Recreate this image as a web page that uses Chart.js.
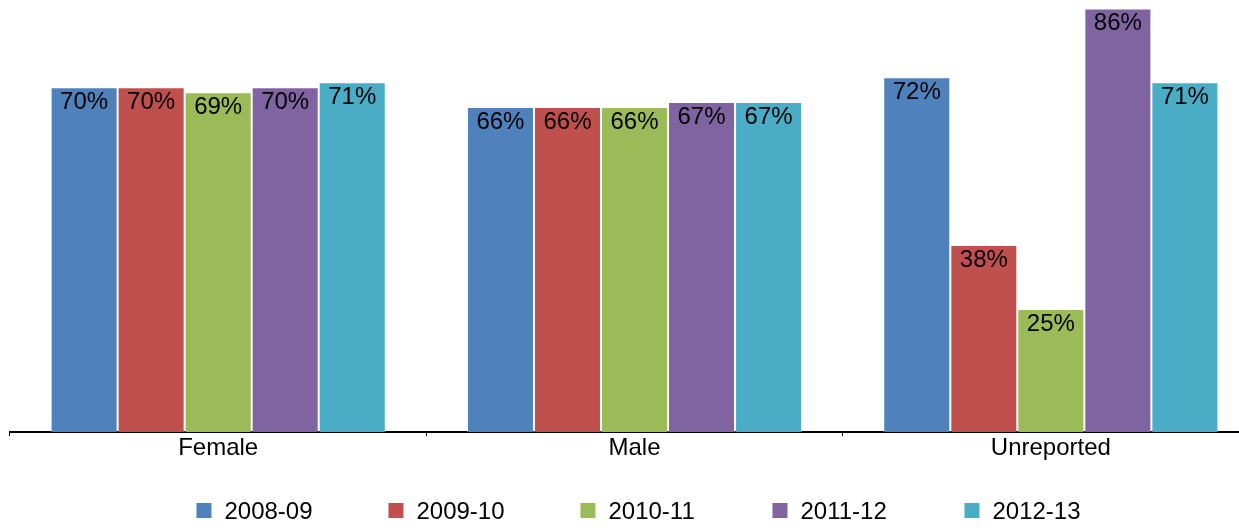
<!DOCTYPE html>
<html>
<head>
<meta charset="utf-8">
<script src="https://cdn.jsdelivr.net/npm/chart.js@4/dist/chart.umd.min.js"></script>
<style>
  html, body { margin: 0; padding: 0; background: #fff; overflow: hidden; }
  #wrap { width: 1277px; height: 528px; position: relative; }
</style>
</head>
<body>
<div id="wrap"><canvas id="chart"></canvas></div>
<script>
const categories = ['Female', 'Male', 'Unreported']
const seriesNames = ['2008-09', '2009-10', '2010-11', '2011-12', '2012-13']
const s2008 = [70, 66, 72]
const s2009 = [70, 66, 38]
const s2010 = [69, 66, 25]
const s2011 = [70, 67, 86]
const s2012 = [71, 67, 71]
const seriesColors = ['#4F81BD', '#C0504D', '#9BBB59', '#8064A2', '#4BACC6']

const font = "'Liberation Sans', Arial, sans-serif"

const barLabels = {
    id: 'barLabels',
    afterDatasetsDraw(chart) {
        const ctx = chart.ctx
        ctx.save()
        ctx.font = '24px ' + font
        ctx.fillStyle = '#000'
        ctx.textAlign = 'center'
        ctx.textBaseline = 'middle'
        chart.data.datasets.forEach((ds, i) => {
            chart.getDatasetMeta(i).data.forEach((bar, j) => {
                ctx.fillText(ds.data[j] + '%', bar.x, bar.y + 15)
            })
        })
        ctx.restore()
    }
}

// legend drawn by hand, spacing like the original
const bottomLegend = {
    id: 'bottomLegend',
    afterDraw(chart) {
        const ctx = chart.ctx
        const step = 192, box = 15, gap = 13
        ctx.save()
        ctx.font = '24px ' + font
        const sets = chart.data.datasets
        const lastW = ctx.measureText(sets[sets.length - 1].label).width
        const total = step * (sets.length - 1) + box + gap + lastW
        let x = chart.width / 2 - total / 2
        const y = 511
        ctx.textBaseline = 'middle'
        ctx.textAlign = 'left'
        sets.forEach(ds => {
            ctx.fillStyle = ds.backgroundColor
            ctx.fillRect(x, y - 8, box, box)
            ctx.fillStyle = '#000'
            ctx.fillText(ds.label, x + box + gap, y + 1)
            x += step
        })
        ctx.restore()
    }
}

const values = [s2008, s2009, s2010, s2011, s2012]

new Chart(document.getElementById('chart'), {
    type: 'bar',
    data: {
        labels: categories,
        datasets: seriesNames.map((name, i) => ({
            label: name,
            data: values[i],
            backgroundColor: seriesColors[i],
            borderColor: 'rgba(255,255,255,0.3)',
            borderWidth: 1,
            categoryPercentage: 0.805,
            barPercentage: 1
        }))
    },
    options: {
        responsive: true,
        maintainAspectRatio: false,
        animation: false,
        layout: { padding: { left: 10, right: 18, top: 0, bottom: 67 } },
        plugins: {
            tooltip: { enabled: false },
            legend: { display: false }
        },
        scales: {
            x: {
                grid: {
                    drawOnChartArea: false,
                    drawTicks: true,
                    tickLength: 4,
                    color: '#000',
                    offset: true
                },
                border: { color: '#000', width: 2 },
                ticks: { color: '#000', padding: -2, font: { family: font, size: 24 } }
            },
            y: {
                display: false,
                min: 0,
                max: 87.7
            }
        }
    },
    plugins: [barLabels, bottomLegend]
})
</script>
</body>
</html>
